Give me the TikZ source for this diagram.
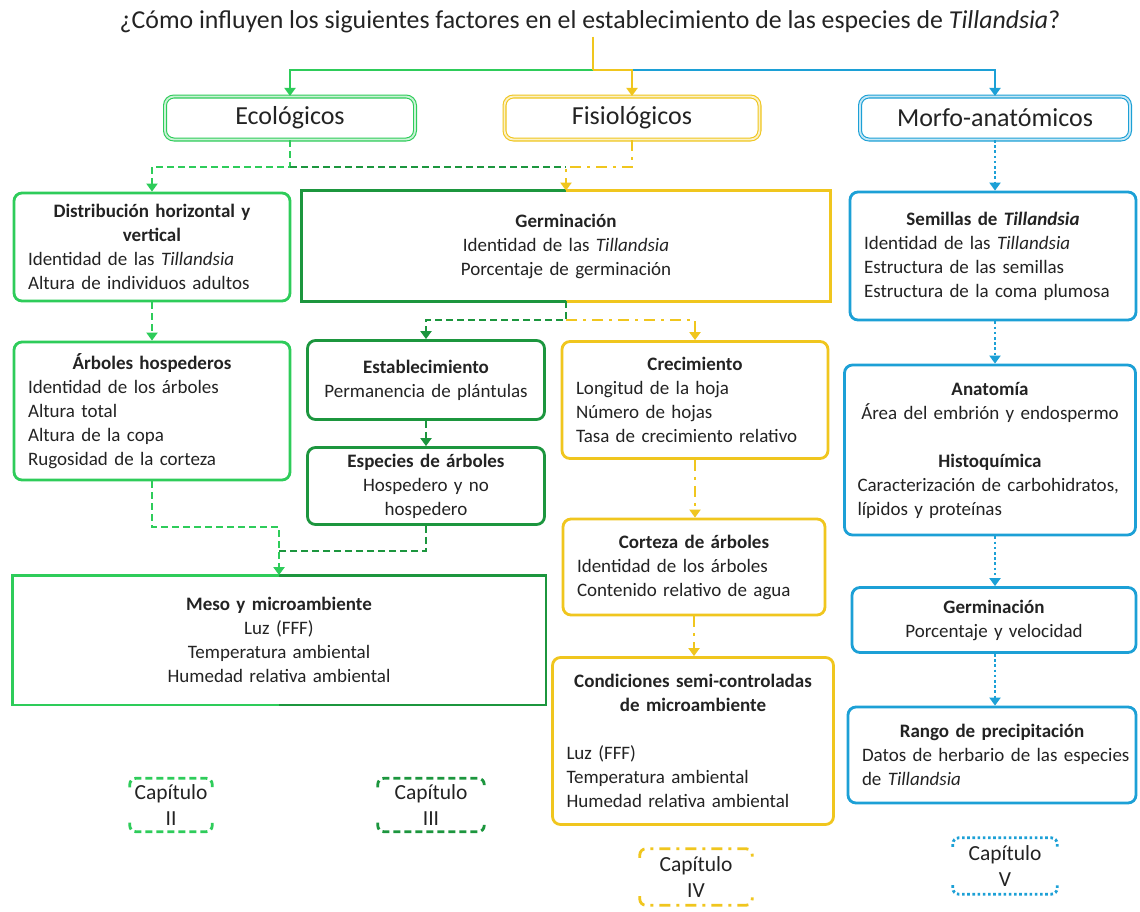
\documentclass[tikz,border=0pt]{standalone}
\usepackage{fontspec}
\setmainfont{Carlito}
\usetikzlibrary{arrows.meta,calc}
\definecolor{lg}{RGB}{46,204,90}
\definecolor{dg}{RGB}{28,150,62}
\definecolor{yl}{RGB}{240,198,30}
\definecolor{bl}{RGB}{28,160,214}
\definecolor{txt}{RGB}{35,35,35}
\newcommand\Hd[1]{\makebox[\linewidth][c]{\bfseries #1}}
\newcommand\Ct[1]{\makebox[\linewidth][c]{#1}}
\tikzset{
  lw/.style={line width=2.8pt},
  arr/.style={-{Triangle[width=11pt,length=8pt]}},
  bodyfont/.style={font=\fontsize{19}{24}\selectfont, text=txt},
  box/.style={bodyfont, rounded corners=8pt, lw, inner xsep=14pt, inner ysep=0pt, align=left},
  cbox/.style={bodyfont, lw, inner xsep=14pt, inner ysep=0pt, align=center},
  topbox/.style={font=\fontsize{26}{30}\selectfont, text=txt, rounded corners=9pt, line width=1.1pt, double distance=1.8pt, minimum height=43pt, inner sep=0pt},
  lgd/.style={lg, lw, dash pattern=on 7pt off 4pt},
  dgd/.style={dg, lw, dash pattern=on 7pt off 4pt},
  ydd/.style={yl, lw, dash pattern=on 11pt off 6pt on 3pt off 6pt},
  bdt/.style={bl, lw, dash pattern=on 2.6pt off 2.6pt},
  capnode/.style={font=\fontsize{21.5}{26}\selectfont, text=txt, align=center, inner sep=0pt},
  capbr/.style={rounded corners=6pt},
}
\begin{document}
\begin{tikzpicture}[x=1pt,y=-1pt]
\useasboundingbox[fill=white] (0,0) rectangle (1140,911);

% title
\node[font=\fontsize{25.8}{30}\selectfont, text=txt] (title) at (590,22)
  {¿Cómo influyen los siguientes factores en el establecimiento de las especies de \textit{Tillandsia}?};

% top boxes
\node[topbox, draw=lg, double=lg!25, minimum width=250pt] (eco) at (290,118) {Ecológicos};
\node[topbox, draw=yl, double=yl!25, minimum width=255pt] (fis) at (632,118) {Fisiológicos};
\node[topbox, draw=bl, double=bl!25, minimum width=270pt] (morf) at (995,118) {Morfo-anatómicos};

% level 2
\node[box, draw=lg, text width=248pt, minimum height=108pt] (dist) at (152,247)
  {\Hd{Distribución horizontal y}\\\Hd{vertical}\\\mbox{Identidad de las \textit{Tillandsia}}\\\mbox{Altura de individuos adultos}};
\node[cbox, text width=498pt, minimum height=108pt] (germ) at (566,246)
  {\textbf{Germinación}\\Identidad de las \textit{Tillandsia}\\Porcentaje de germinación};
\draw[dg, lw] (germ.north) -- (germ.north west) -- (germ.south west) -- (germ.south);
\draw[yl, lw] (germ.north) -- (germ.north east) -- (germ.south east) -- (germ.south);
\node[box, draw=bl, text width=258pt, minimum height=128pt] (sem) at (993,256)
  {\Hd{Semillas de \textit{Tillandsia}}\\\mbox{Identidad de las \textit{Tillandsia}}\\\mbox{Estructura de las semillas}\\\mbox{Estructura de la coma plumosa}};

% level 3
\node[box, draw=lg, text width=248pt, minimum height=138pt] (arb) at (152,411)
  {\Hd{Árboles hospederos}\\Identidad de los árboles\\Altura total\\Altura de la copa\\\mbox{Rugosidad de la corteza}};
\node[cbox, rounded corners=8pt, draw=dg, text width=209pt, minimum height=79pt] (est) at (426,380)
  {\textbf{Establecimiento}\\Permanencia de plántulas};
\node[cbox, rounded corners=8pt, draw=dg, text width=209pt, minimum height=77pt] (esp) at (426,486)
  {\textbf{Especies de árboles}\\Hospedero y no\\hospedero};
\node[box, draw=yl, text width=238pt, minimum height=117pt] (crec) at (695,400)
  {\Hd{Crecimiento}\\Longitud de la hoja\\Número de hojas\\\mbox{Tasa de crecimiento relativo}};
\node[box, draw=yl, text width=234pt, minimum height=96pt] (cort) at (694,567)
  {\Hd{Corteza de árboles}\\\mbox{Identidad de los árboles}\\\mbox{Contenido relativo de agua}};
\node[box, draw=yl, text width=253pt, minimum height=167pt] (cond) at (693,741)
  {\Hd{Condiciones semi-controladas}\\\Hd{de microambiente}\\[24pt]Luz (FFF)\\Temperatura ambiental\\\mbox{Humedad relativa ambiental}};
\node[cbox, text width=503pt, minimum height=127pt] (meso) at (279,640)
  {\textbf{Meso y microambiente}\\Luz (FFF)\\Temperatura ambiental\\Humedad relativa ambiental};
\draw[lg, lw] (meso.north) -- (meso.north west) -- (meso.south west) -- (meso.south);
\draw[dg, lw] (meso.north) -- (meso.north east) -- (meso.south east) -- (meso.south);

\node[box, draw=bl, text width=265pt, minimum height=170pt, inner xsep=13pt] (anat) at (990,450)
  {\Hd{Anatomía}\\\Ct{Área del embrión y endospermo}\\[24pt]\Hd{Histoquímica}\\\mbox{Caracterización de carbohidratos,}\\\mbox{lípidos y proteínas}};
\node[cbox, rounded corners=8pt, draw=bl, text width=256pt, minimum height=65pt] (germb) at (994,620)
  {\textbf{Germinación}\\Porcentaje y velocidad};
\node[box, draw=bl, text width=260pt, minimum height=96pt] (rango) at (992,755)
  {\Hd{Rango de precipitación}\\\mbox{Datos de herbario de las especies}\\\mbox{de \textit{Tillandsia}}};

% top connectors
\coordinate (j0) at (593,70);
\draw[lg, lw, arr] (j0) -| (eco.north);
\draw[bl, lw, arr] (fis.north |- j0) -| (morf.north);
\draw[yl, lw] (title.south -| j0) -- (j0);
\draw[yl, lw, arr] (j0) -| (fis.north);

% second row connectors
\coordinate (e1) at (290,167);
\coordinate (e2) at (566,167);
\draw[lgd, arr] (eco.south) -- (e1) -| (dist.north);
\draw[dgd] (e1) -- (e2);
\draw[ydd, arr] (fis.south) |- (e2) -- (germ.north);

\draw[lgd, arr] (dist.south) -- (arb.north);

\coordinate (g1) at (566,320);
\draw[dgd, arr] (germ.south) -- (g1) -| (est.north);
\draw[ydd, arr] (g1) -| (crec.north);
\draw[dgd, arr] (est.south) -- (esp.north);
\draw[ydd, arr] (crec.south) -- (crec.south |- cort.north);
\draw[ydd, arr] (cort.south) -- (cort.south |- cond.north);

\coordinate (m1) at (279,527);
\coordinate (m2) at (279,551);
\draw[dgd] (esp.south) |- (m2);
\draw[lgd, arr] (arb.south) |- (m1) -- (meso.north);

% blue connectors
\draw[bdt, arr] (morf.south) -- (morf.south |- sem.north);
\draw[bdt, arr] (morf.south |- sem.south) -- (morf.south |- anat.north);
\draw[bdt, arr] (morf.south |- anat.south) -- (morf.south |- germb.north);
\draw[bdt, arr] (morf.south |- germb.south) -- (morf.south |- rango.north);

% chapters
\node[capnode, minimum width=82pt, minimum height=53pt] (c2) at (171,805) {Capítulo\\II};
\draw[lgd, capbr] ([yshift=-9pt]c2.north west) -- (c2.north west) -- (c2.north east) -- ([yshift=-9pt]c2.north east);
\draw[lgd, capbr] ([yshift=9pt]c2.south west) -- (c2.south west) -- (c2.south east) -- ([yshift=9pt]c2.south east);

\node[capnode, minimum width=106pt, minimum height=53pt] (c3) at (431,805) {Capítulo\\III};
\draw[dgd, capbr] ([yshift=-9pt]c3.north west) -- (c3.north west) -- (c3.north east) -- ([yshift=-9pt]c3.north east);
\draw[dgd, capbr] ([yshift=9pt]c3.south west) -- (c3.south west) -- (c3.south east) -- ([yshift=9pt]c3.south east);

\node[capnode, minimum width=112pt, minimum height=56pt] (c4) at (696,877) {Capítulo\\IV};
\draw[ydd, capbr] ([yshift=-9pt]c4.north west) -- (c4.north west) -- (c4.north east) -- ([yshift=-9pt]c4.north east);
\draw[ydd, capbr] ([yshift=9pt]c4.south west) -- (c4.south west) -- (c4.south east) -- ([yshift=9pt]c4.south east);

\node[capnode, minimum width=104pt, minimum height=56pt] (c5) at (1005,866) {Capítulo\\V};
\draw[bdt, capbr] ([yshift=-9pt]c5.north west) -- (c5.north west) -- (c5.north east) -- ([yshift=-9pt]c5.north east);
\draw[bdt, capbr] ([yshift=9pt]c5.south west) -- (c5.south west) -- (c5.south east) -- ([yshift=9pt]c5.south east);
\end{tikzpicture}
\end{document}
